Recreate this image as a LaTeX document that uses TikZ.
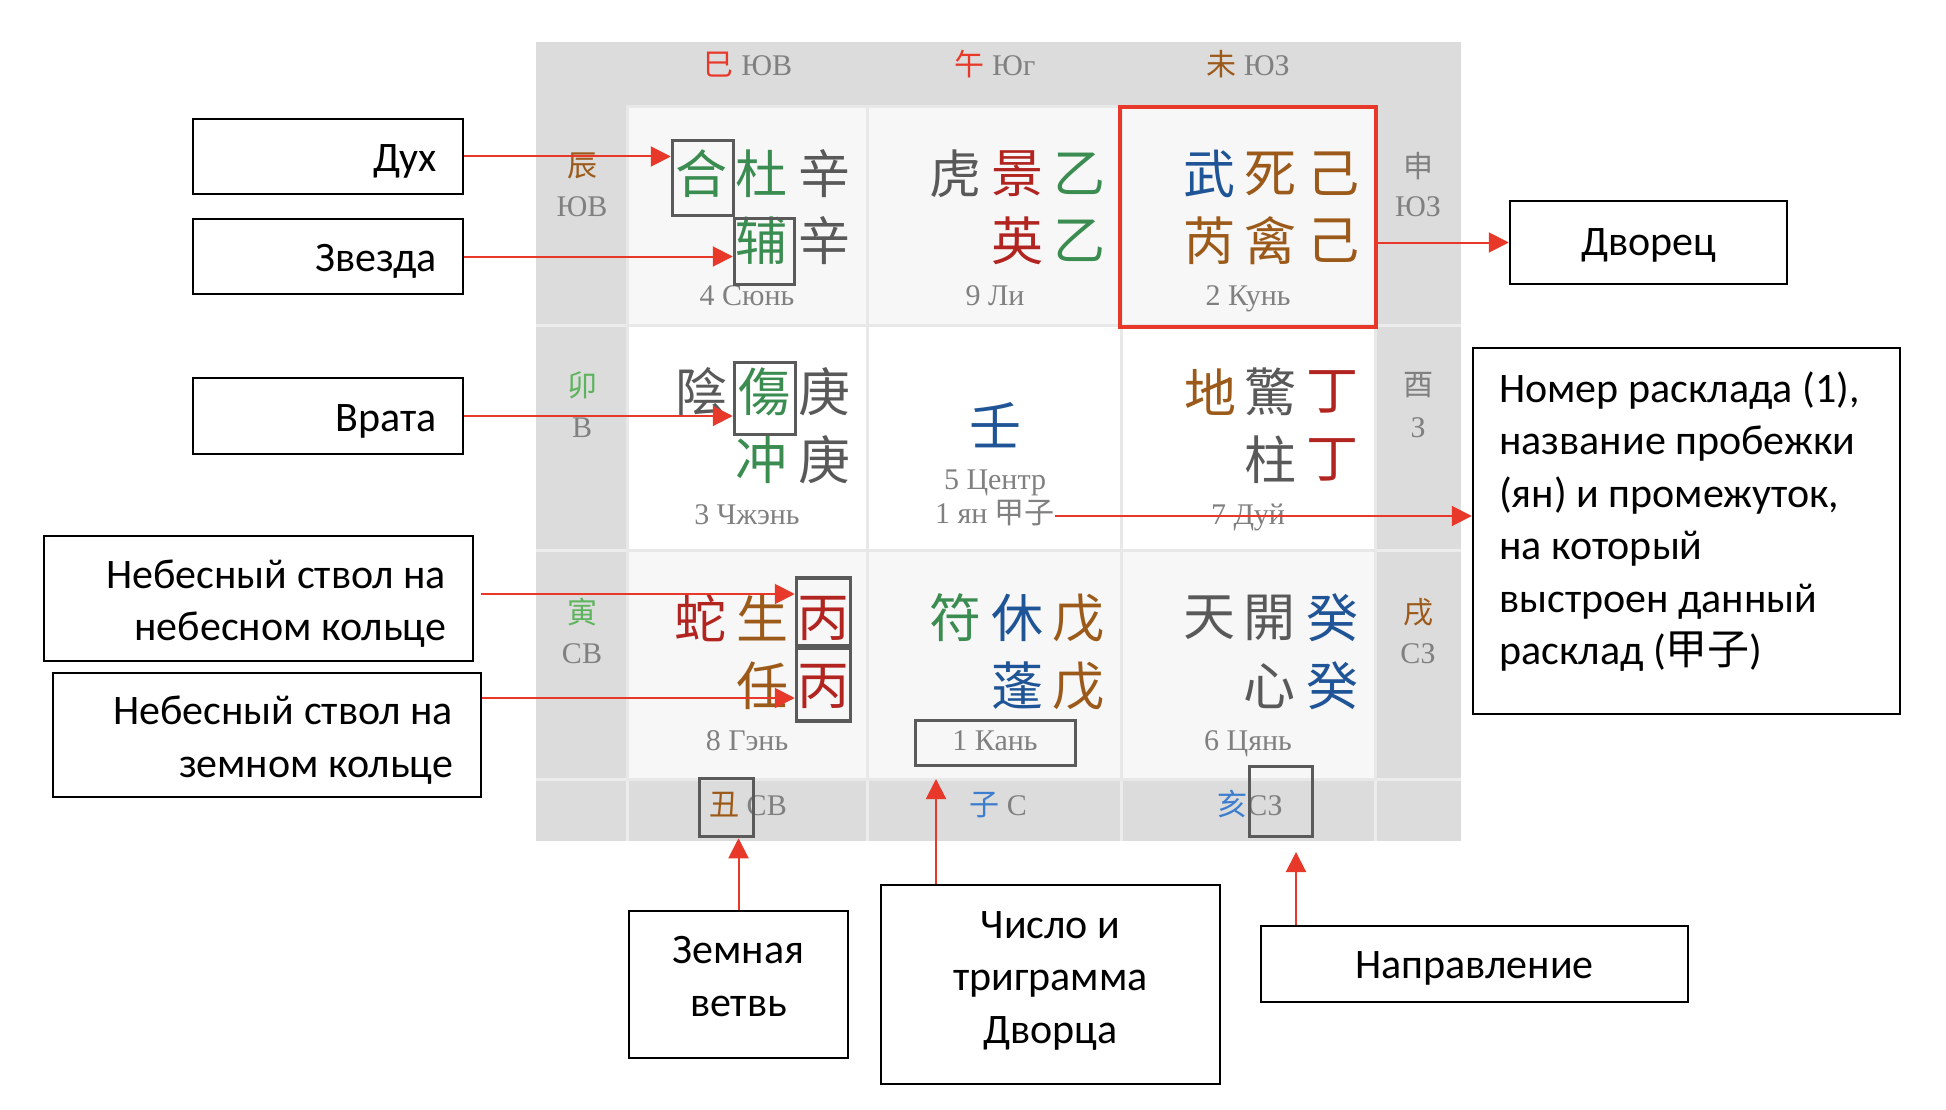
\documentclass[tikz,border=0pt]{standalone}
\usepackage{fontspec}
\setmainfont{Liberation Serif}
\newfontfamily\cjk{Noto Sans CJK SC}
\newfontfamily\calfont{Carlito}
\usetikzlibrary{arrows.meta,calc}
\definecolor{qred}{RGB}{232,56,42}
\definecolor{dred}{RGB}{178,36,32}
\definecolor{qgreen}{RGB}{58,140,80}
\definecolor{lgreen}{RGB}{92,180,92}
\definecolor{qbrown}{RGB}{156,90,26}
\definecolor{qblue}{RGB}{31,84,150}
\definecolor{lblue}{RGB}{60,125,205}
\definecolor{dgrey}{RGB}{89,89,89}
\definecolor{mgrey}{RGB}{128,128,128}
\definecolor{boxgrey}{RGB}{90,90,90}
\definecolor{stripbg}{RGB}{220,220,220}
\definecolor{cellbg}{RGB}{247,247,247}
\definecolor{gridline}{RGB}{232,232,232}
\definecolor{stripline}{RGB}{236,236,236}
\newcommand\cj[1]{{\cjk #1}}
\begin{document}
\begin{tikzpicture}[x=1pt,y=-1pt,
  ch/.style={font=\cjk\fontsize{52}{52}\selectfont, inner sep=0pt},
  sch/.style={font=\cjk\fontsize{30}{30}\selectfont, inner sep=0pt},
  lab/.style={font=\fontsize{30}{30}\selectfont, text=mgrey, inner sep=0pt, anchor=base},
  gbox/.style={draw=boxgrey, line width=3.5pt, inner sep=0pt},
  abox/.style={draw=black, line width=2.5pt, inner sep=0pt},
  atext/.style={font=\calfont\fontsize{42}{52.5}\selectfont, inner sep=0pt},
  arr/.style={draw=qred, line width=2pt, -{Triangle[length=20pt,width=20pt]}},
  cellA/.style={fill=cellbg, draw=gridline, line width=3pt},
  cellB/.style={fill=white, draw=gridline, line width=3pt},
  sline/.style={draw=stripline, line width=3pt}]
\useasboundingbox (0,0) rectangle (1946,1110);
\fill[white] (0,0) rectangle (1946,1110);

% ---------- grid background ----------
\fill[stripbg] (536,42) rectangle (1461,841);
\foreach \yy in {325,550,779} \draw[sline] (536,\yy) -- (1461,\yy);
\foreach \xx in {627,867,1121,1375} \draw[sline] (\xx,779) -- (\xx,841);
\foreach \xa/\xb in {627/867,867/1121,1121/1375} {
  \draw[cellA] (\xa,107) rectangle (\xb,325);
  \draw[cellB] (\xa,325) rectangle (\xb,550);
  \draw[cellA] (\xa,550) rectangle (\xb,779);
}

% ---------- strip labels ----------
\node[lab] (tse) at (748,76) {\textcolor{qred}{\cj{巳}} ЮВ};
\node[lab] (ts) at (995,76) {\textcolor{qred}{\cj{午}} Юг};
\node[lab] (tsw) at (1248,76) {\textcolor{qbrown}{\cj{未}} ЮЗ};

\node[sch, text=qbrown] (l1a) at (582,166) {辰};
\node[lab] (l1b) at (582,217) {ЮВ};
\node[sch, text=lgreen] (l2a) at (582,385) {卯};
\node[lab] (l2b) at (582,437) {В};
\node[sch, text=lgreen] (l3a) at (582,612) {寅};
\node[lab] (l3b) at (582,663) {СВ};

\node[sch, text=mgrey] (r1a) at (1418,166) {申};
\node[lab] (r1b) at (1418,217) {ЮЗ};
\node[sch, text=mgrey] (r2a) at (1418,385) {酉};
\node[lab] (r2b) at (1418,437) {З};
\node[sch, text=qbrown] (r3a) at (1418,612) {戌};
\node[lab] (r3b) at (1418,663) {СЗ};

\node[lab] (bne) at (748,815) {\textcolor{qbrown}{\cj{丑}} СВ};
\node[lab] (bn) at (998,815) {\textcolor{lblue}{\cj{子}} С};
\node[lab] (bnw) at (1250,815) {\textcolor{lblue}{\cj{亥}}СЗ};

% ---------- cell 4 Xun ----------
\node[ch, text=qgreen] (he) at (701,174) {合};
\node[ch, text=qgreen] (du) at (761,174) {杜};
\node[ch, text=dgrey] (xinA) at (824,174) {辛};
\node[ch, text=qgreen] (fu) at (761,241) {辅};
\node[ch, text=dgrey] (xinB) at (824,241) {辛};
\node[lab] (cap4) at (747,305) {4 Сюнь};
% ---------- cell 9 Li ----------
\node[ch, text=dgrey] (hu) at (955,174) {虎};
\node[ch, text=dred] (jing) at (1017,174) {景};
\node[ch, text=qgreen] (yiA) at (1079,174) {乙};
\node[ch, text=dred] (ying) at (1017,241) {英};
\node[ch, text=qgreen] (yiB) at (1079,241) {乙};
\node[lab] (cap9) at (995,305) {9 Ли};
% ---------- cell 2 Kun ----------
\node[ch, text=qblue] (wu) at (1209,174) {武};
\node[ch, text=qbrown] (si) at (1270,174) {死};
\node[ch, text=qbrown] (jiA) at (1333,174) {己};
\node[ch, text=qbrown] (rui) at (1209,241) {芮};
\node[ch, text=qbrown] (qin) at (1270,241) {禽};
\node[ch, text=qbrown] (jiB) at (1333,241) {己};
\node[lab] (cap2) at (1248,305) {2 Кунь};
% ---------- cell 3 Zhen ----------
\node[ch, text=dgrey] (yin) at (701,392) {陰};
\node[ch, text=qgreen] (shang) at (764,392) {傷};
\node[ch, text=dgrey] (gengA) at (824,392) {庚};
\node[ch, text=qgreen] (chong) at (761,460) {冲};
\node[ch, text=dgrey] (gengB) at (824,460) {庚};
\node[lab] (cap3) at (747,524) {3 Чжэнь};
% ---------- cell 5 ----------
\node[ch, text=qblue] (ren) at (995,425) {壬};
\node[lab] (cap5) at (995,489) {5 Центр};
\node[lab] (yan) at (995,523) {1 ян \cj{甲子}};
% ---------- cell 7 Dui ----------
\node[ch, text=qbrown] (di) at (1210,392) {地};
\node[ch, text=dgrey] (jingB) at (1270,392) {驚};
\node[ch, text=dred] (dingA) at (1332,392) {丁};
\node[ch, text=dgrey] (zhu) at (1270,460) {柱};
\node[ch, text=dred] (dingB) at (1332,460) {丁};
\node[lab] (cap7) at (1248,524) {7 Дуй};
% ---------- cell 8 Gen ----------
\node[ch, text=dred] (she) at (700,618) {蛇};
\node[ch, text=qbrown] (sheng) at (762,618) {生};
\node[ch, text=dred] (bingcA) at (823,618) {丙};
\node[ch, text=qbrown] (renB) at (762,686) {任};
\node[ch, text=dred] (bingcB) at (823,686) {丙};
\node[lab] (cap8) at (747,750) {8 Гэнь};
% ---------- cell 1 Kan ----------
\node[ch, text=qgreen] (fuB) at (955,618) {符};
\node[ch, text=qblue] (xiu) at (1017,618) {休};
\node[ch, text=qbrown] (wuA) at (1078,618) {戊};
\node[ch, text=qblue] (peng) at (1017,686) {蓬};
\node[ch, text=qbrown] (wuB) at (1078,686) {戊};
\node[lab] (cap1) at (995,750) {1 Кань};
% ---------- cell 6 Qian ----------
\node[ch, text=dgrey] (tian) at (1209,618) {天};
\node[ch, text=dgrey] (kai) at (1269,618) {開};
\node[ch, text=qblue] (guiA) at (1332,618) {癸};
\node[ch, text=dgrey] (xin) at (1269,686) {心};
\node[ch, text=qblue] (guiB) at (1332,686) {癸};
\node[lab] (cap6) at (1248,750) {6 Цянь};

% ---------- highlight boxes ----------
\node[draw=qred, line width=4pt, inner sep=0pt, minimum width=256pt, minimum height=220pt] (palace) at (1248,217) {};
\node[gbox, minimum width=61pt, minimum height=75pt] (hebox) at (703,178) {};
\node[gbox, minimum width=60pt, minimum height=66pt] (fubox) at (764.5,251.5) {};
\node[gbox, minimum width=61pt, minimum height=72pt] (shangbox) at (765,398.5) {};
\node[gbox, minimum width=54pt, minimum height=68pt] (bingA) at (823.5,612) {};
\node[gbox, minimum width=54pt, minimum height=73pt] (bingB) at (823.5,684.5) {};
\node[gbox, minimum width=160pt, minimum height=45pt] (kanbox) at (995.5,743) {};
\node[gbox, minimum width=54pt, minimum height=58pt] (choubox) at (726.5,807.5) {};
\node[gbox, minimum width=63pt, minimum height=70pt] (szbox) at (1281,801.5) {};

% ---------- annotation boxes ----------
\node[abox, minimum width=270pt, minimum height=75pt] (dux) at (328,156.5) {};
\node[abox, minimum width=270pt, minimum height=75pt] (zv) at (328,256.5) {};
\node[abox, minimum width=270pt, minimum height=76pt] (vr) at (328,416) {};
\node[abox, minimum width=429pt, minimum height=125pt] (nb1) at (258.5,598.5) {};
\node[abox, minimum width=428pt, minimum height=124pt] (nb2) at (267,735) {};
\node[abox, minimum width=277pt, minimum height=83pt] (dv) at (1648.5,242.5) {};
\node[abox, minimum width=427pt, minimum height=366pt] (big) at (1686.5,531) {};
\node[abox, minimum width=219pt, minimum height=147pt] (zem) at (738.5,984.5) {};
\node[abox, minimum width=339pt, minimum height=199pt] (chis) at (1050.5,984.5) {};
\node[abox, minimum width=427pt, minimum height=76pt] (napr) at (1474.5,964) {};

\node[atext, anchor=east, align=right] (duxt) at ([xshift=-27pt,yshift=-5pt]dux.east) {Дух};
\node[atext, anchor=east, align=right] (zvt) at ([xshift=-27pt,yshift=-5pt]zv.east) {Звезда};
\node[atext, anchor=east, align=right] (vrt) at ([xshift=-27pt,yshift=-5pt]vr.east) {Врата};
\node[atext, anchor=east, align=right] (nb1t) at ([xshift=-28pt,yshift=-5pt]nb1.east) {Небесный ствол на\\небесном кольце};
\node[atext, anchor=east, align=right] (nb2t) at ([xshift=-29pt,yshift=-5pt]nb2.east) {Небесный ствол на\\земном кольце};
\node[atext, align=center] (dvt) at ([yshift=-2.5pt]dv.center) {Дворец};
\node[atext, align=left, anchor=north west] (bigtext) at (1499,371.5) {Номер расклада (1),\\название пробежки\\(ян) и промежуток,\\на который\\выстроен данный\\расклад (\cj{甲子})};
\node[atext, align=center] (zemt) at ([yshift=8pt]zem.center) {Земная\\ветвь};
\node[atext, align=center] (chist) at ([yshift=4pt]chis.center) {Число и\\триграмма\\Дворца};
\node[atext, align=center] (naprt) at ([yshift=-4pt]napr.center) {Направление};

% ---------- connectors ----------
\coordinate (nb1s) at (481,594);
\coordinate (nb2s) at (482,698);
\coordinate (yanend) at ([yshift=7pt]yan.base east);
\coordinate (kantip) at (936,779);
\coordinate (dirtip) at (1296,852);
\draw[arr] (dux.east) -- (dux.east -| hebox.west);
\draw[arr] (zv.east) -- (zv.east -| fubox.west);
\draw[arr] (vr.east) -- (vr.east -| shangbox.west);
\draw[arr] (nb1s) -- (nb1s -| bingA.west);
\draw[arr] (nb2s) -- (nb2s -| bingB.west);
\draw[arr] (dv.west -| palace.east) -- (dv.west);
\draw[arr] (yanend) -- (yanend -| big.west);
\draw[arr] (zem.north) -- (zem.north |- choubox.south);
\draw[arr] (kantip |- chis.north) -- (kantip);
\draw[arr] (dirtip |- napr.north) -- (dirtip);
\end{tikzpicture}
\end{document}
